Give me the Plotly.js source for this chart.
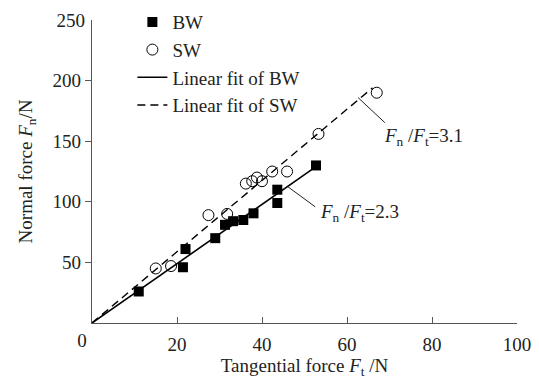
<!DOCTYPE html>
<html>
<head>
<meta charset="utf-8">
<script src="https://cdn.plot.ly/plotly-3.0.1.min.js"></script>
<style>html,body{margin:0;padding:0;background:#fff;}#chart{width:539px;height:381px;}</style>
</head>
<body>
<div id="chart"></div>
<script>
// Data
const bwFt = [11, 21.4, 22, 29, 31.3, 33.2, 35.6, 38, 43.6, 43.6, 52.7];
const bwFn = [26, 46, 61, 70, 81, 84, 85, 90.5, 110, 99, 130];
const swFt = [15, 18.6, 27.4, 31.8, 36.2, 37.7, 38.8, 40, 42.4, 45.9, 53.3, 67];
const swFn = [45, 47, 89, 90, 115, 117, 120, 117, 125, 125, 156, 190];
const fitBWx = [0, 52.7];
const fitBWy = [0, 129];
const fitSWx = [0, 66];
const fitSWy = [0, 194];
const xTicks = [20, 40, 60, 80, 100];
const xZero = [0];
const yTicks = [50, 100, 150, 200];
const yTop = [250];
const names = ['BW', 'SW', 'Linear fit of BW', 'Linear fit of SW'];
const ratioBW = '<i>F</i><sub>n</sub> /<i>F</i><sub>t</sub>=2.3';
const ratioSW = '<i>F</i><sub>n</sub> /<i>F</i><sub>t</sub>=3.1';

const FONT = '"Liberation Serif", "Times New Roman", Times, serif';
const AX = '#555';
const FS = 19;

const traces = [
  {x: bwFt, y: bwFn, mode: 'markers', name: names[0], type: 'scatter',
   marker: {symbol: 'square', size: 10, color: '#000'}},
  {x: swFt, y: swFn, mode: 'markers', name: names[1], type: 'scatter',
   marker: {symbol: 'circle-open', size: 11, color: '#000', line: {width: 1, color: '#000'}}},
  {x: fitBWx, y: fitBWy, mode: 'lines', name: names[2], type: 'scatter',
   line: {color: '#000', width: 1.6}},
  {x: fitSWx, y: fitSWy, mode: 'lines', name: names[3], type: 'scatter', xaxis: 'x2', yaxis: 'y2',
   line: {color: '#000', width: 1.4, dash: '8px,5px'}}
];

const layout = {
  width: 539, height: 381,
  margin: {l: 92, r: 22, t: 20, b: 58, autoexpand: false},
  paper_bgcolor: '#fff', plot_bgcolor: '#fff',
  font: {family: FONT, size: FS, color: '#222'},
  showlegend: true,
  legend: {x: 0.095, y: 1.056, xanchor: 'left', yanchor: 'top', bgcolor: 'rgba(0,0,0,0)',
           font: {family: FONT, size: FS, color: '#222'}, itemwidth: 30, tracegroupgap: 0},
  xaxis: {range: [0, 100], tickvals: xTicks, ticktext: xTicks.map(String), ticks: 'inside', ticklen: 6,
          tickcolor: AX, showline: true, linecolor: AX, linewidth: 1.2, showgrid: false, zeroline: false,
          ticklabelstandoff: 4, tickfont: {family: FONT, size: FS, color: '#222'},
          title: {text: 'Tangential force <i>F</i><sub>t</sub> /N', standoff: 4, font: {family: FONT, size: FS, color: '#222'}}},
  xaxis2: {range: [0, 100], overlaying: 'x', side: 'bottom', tickvals: xZero, ticktext: xZero.map(String), ticks: '',
           showline: false, showgrid: false, zeroline: false, ticklabelshift: -10, ticklabelstandoff: 4,
           tickfont: {family: FONT, size: FS, color: '#222'}},
  yaxis: {range: [0, 250], tickvals: yTicks, ticktext: yTicks.map(String), ticks: 'outside', ticklen: 6,
          tickcolor: AX, showline: true, linecolor: AX, linewidth: 1.2, showgrid: false, zeroline: false,
          tickfont: {family: FONT, size: FS, color: '#222'},
          title: {text: 'Normal force <i>F</i><sub>n</sub>/N', standoff: 14, font: {family: FONT, size: FS, color: '#222'}}},
  yaxis2: {range: [0, 250], overlaying: 'y', side: 'left', tickvals: yTop, ticktext: yTop.map(String),
           ticks: 'inside', ticklen: 7, tickcolor: AX, showline: false, showgrid: false, zeroline: false,
           tickfont: {family: FONT, size: FS, color: '#222'}, ticklabelstandoff: 6},
  shapes: [
    {type: 'line', xref: 'x', yref: 'y', x0: 62.6, y0: 186, x1: 68.9, y1: 165.3, line: {color: '#222', width: 1}},
    {type: 'line', xref: 'x', yref: 'y', x0: 46.1, y0: 112.4, x1: 52.5, y1: 95.9, line: {color: '#222', width: 1}}
  ],
  annotations: [
    {xref: 'x', yref: 'y', x: 68.3, y: 153.5, text: ratioSW, showarrow: false, xanchor: 'left', yanchor: 'middle',
     font: {family: FONT, size: FS, color: '#222'}},
    {xref: 'x', yref: 'y', x: 53.2, y: 91, text: ratioBW, showarrow: false, xanchor: 'left', yanchor: 'middle',
     font: {family: FONT, size: FS, color: '#222'}}
  ]
};

Plotly.newPlot('chart', traces, layout, {staticPlot: true, displayModeBar: false});
</script>
</body>
</html>
